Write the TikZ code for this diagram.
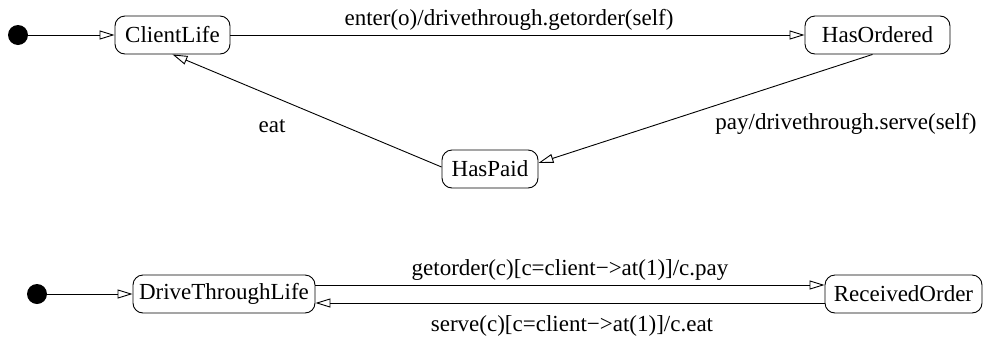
\documentclass[tikz,border=0pt]{standalone}
\usepackage{fontspec}
\setmainfont{Liberation Serif}
\usetikzlibrary{arrows.meta}
\begin{document}
\begin{tikzpicture}[x=1pt,y=-1pt,
  every node/.style={font=\fontsize{23}{27}\selectfont},
  state/.style={draw, rounded corners=10pt, line width=0.9pt, minimum height=38pt, inner sep=0pt},
  initial/.style={circle, fill=black, minimum size=20pt, inner sep=0pt},
  trans/.style={line width=0.9pt, -{Triangle[open, length=15pt, width=9pt]}},
  lbl/.style={inner sep=0pt}]
\useasboundingbox (0,0) rectangle (983,338);

% client state machine
\node[initial] (i1) at (18,35) {};
\node[state, minimum width=115pt] (cl) at (172.5,35) {ClientLife};
\node[state, minimum width=145pt] (ho) at (877.5,35) {HasOrdered};
\node[state, minimum width=96pt] (hp) at (490,169) {HasPaid};

\draw[trans] (i1.east) -- (cl.west);
\draw[trans] (cl.east) -- (ho.west);
\draw[trans] ([xshift=-5pt]ho.south) -- ([yshift=6pt]hp.east);
\draw[trans] ([yshift=2pt]hp.west) -- (cl.south);

\node[lbl] (l1) at (509,20) {enter(o)/drivethrough.getorder(self)};
\node[lbl] (l2) at (272,126) {eat};
\node[lbl] (l3) at (846,124) {pay/drivethrough.serve(self)};

% drive-through state machine
\node[initial] (i2) at (37,294) {};
\node[state, minimum width=182pt] (dt) at (224,294) {DriveThroughLife};
\node[state, minimum width=157pt] (ro) at (903.5,294) {ReceivedOrder};

\draw[trans] (i2.east) -- (dt.west);
\draw[trans] ([yshift=9pt]dt.east) -- ([yshift=9pt]ro.west);
\draw[trans] ([yshift=-9pt]ro.west) -- ([yshift=-9pt]dt.east);

\node[lbl] (l4) at (570,270) {getorder(c)[c=client−>at(1)]/c.pay};
\node[lbl] (l5) at (572,326) {serve(c)[c=client−>at(1)]/c.eat};
\end{tikzpicture}
\end{document}
